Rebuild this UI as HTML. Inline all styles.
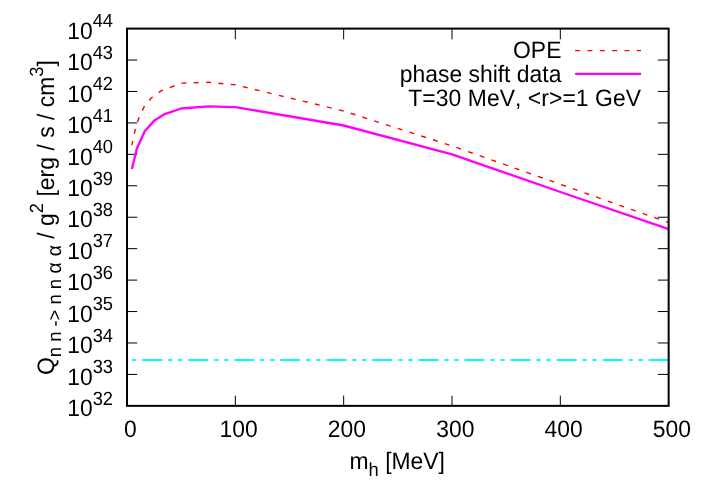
<!DOCTYPE html>
<html><head><meta charset="utf-8">
<title>Q vs m_h</title>
<style>
html,body{margin:0;padding:0;background:#fff;}
svg{display:block;will-change:transform;}
text{font-family:"Liberation Sans",sans-serif;fill:#000;text-rendering:geometricPrecision;}
</style></head>
<body>
<svg width="710" height="498" viewBox="0 0 710 498">
<rect width="710" height="498" fill="#fff"/>
<path d="M127.0,60.04h10.2M668.65,60.04h-10.8M127.0,91.47h10.2M668.65,91.47h-10.8M127.0,122.91h10.2M668.65,122.91h-10.8M127.0,154.35h10.2M668.65,154.35h-10.8M127.0,185.79h10.2M668.65,185.79h-10.8M127.0,217.22h10.2M668.65,217.22h-10.8M127.0,248.66h10.2M668.65,248.66h-10.8M127.0,280.10h10.2M668.65,280.10h-10.8M127.0,311.54h10.2M668.65,311.54h-10.8M127.0,342.98h10.2M668.65,342.98h-10.8M127.0,374.41h10.2M668.65,374.41h-10.8M235.33,405.85v-10.2M235.33,28.6v10.7M343.66,405.85v-10.2M343.66,28.6v10.7M451.99,405.85v-10.2M451.99,28.6v10.7M560.32,405.85v-10.2M560.32,28.6v10.7" stroke="#000" stroke-width="1" fill="none"/>
<path d="M131.9,145.2L134.8,131.6L138.5,118.9L143.9,107.2L151.1,98.1L161.1,90.9L181.3,83.1L208.2,82.3L235.3,84.8L343.7,111.0L452,145.9L560.4,184.3L668.65,222.6" fill="none" stroke="#ff0000" stroke-width="1.4" stroke-dasharray="5 7.35" stroke-dashoffset="0.8"/>
<path d="M131.9,169.0L137,148.2L144.8,131.2L153.8,121.1L164.7,114.1L181.2,108.5L208.2,106.3L235.3,107.1L343.7,125.5L452,154.4L560.4,192.0L668.65,229.2" fill="none" stroke="#ff00ff" stroke-width="2.35" stroke-linejoin="round"/>
<path d="M668.65,360L132.1,360" fill="none" stroke="#00ffff" stroke-width="2" stroke-dasharray="20 6 4 6 4 6.04"/>
<rect x="127.0" y="28.6" width="541.65" height="377.25" fill="none" stroke="#000" stroke-width="2"/>
<path d="M575.1,50.6H641" fill="none" stroke="#ff0000" stroke-width="1.3" stroke-dasharray="5 7.35"/>
<path d="M575.1,73.8H641" fill="none" stroke="#ff00ff" stroke-width="2.3"/>
<text transform="translate(561.40,58.30) scale(1,1.04)" font-size="22.90" text-anchor="end">OPE</text>
<text transform="translate(561.40,81.70) scale(1,1.04)" font-size="22.90" text-anchor="end">phase shift data</text>
<text transform="translate(641.00,105.70) scale(1,1.04)" font-size="22.90" text-anchor="end" letter-spacing="0.06" style="font-kerning:none">T=30 MeV, &lt;r&gt;=1 GeV</text>
<text transform="translate(67.20,38.80) scale(1,1.04)" font-size="22.90" text-anchor="start">10</text>
<text transform="translate(92.65,27.40) scale(1,1.04)" font-size="18.32" text-anchor="start">44</text>
<text transform="translate(67.20,70.24) scale(1,1.04)" font-size="22.90" text-anchor="start">10</text>
<text transform="translate(92.65,58.84) scale(1,1.04)" font-size="18.32" text-anchor="start">43</text>
<text transform="translate(67.20,101.67) scale(1,1.04)" font-size="22.90" text-anchor="start">10</text>
<text transform="translate(92.65,90.27) scale(1,1.04)" font-size="18.32" text-anchor="start">42</text>
<text transform="translate(67.20,133.11) scale(1,1.04)" font-size="22.90" text-anchor="start">10</text>
<text transform="translate(92.65,121.71) scale(1,1.04)" font-size="18.32" text-anchor="start">41</text>
<text transform="translate(67.20,164.55) scale(1,1.04)" font-size="22.90" text-anchor="start">10</text>
<text transform="translate(92.65,153.15) scale(1,1.04)" font-size="18.32" text-anchor="start">40</text>
<text transform="translate(67.20,195.99) scale(1,1.04)" font-size="22.90" text-anchor="start">10</text>
<text transform="translate(92.65,184.59) scale(1,1.04)" font-size="18.32" text-anchor="start">39</text>
<text transform="translate(67.20,227.42) scale(1,1.04)" font-size="22.90" text-anchor="start">10</text>
<text transform="translate(92.65,216.02) scale(1,1.04)" font-size="18.32" text-anchor="start">38</text>
<text transform="translate(67.20,258.86) scale(1,1.04)" font-size="22.90" text-anchor="start">10</text>
<text transform="translate(92.65,247.46) scale(1,1.04)" font-size="18.32" text-anchor="start">37</text>
<text transform="translate(67.20,290.30) scale(1,1.04)" font-size="22.90" text-anchor="start">10</text>
<text transform="translate(92.65,278.90) scale(1,1.04)" font-size="18.32" text-anchor="start">36</text>
<text transform="translate(67.20,321.74) scale(1,1.04)" font-size="22.90" text-anchor="start">10</text>
<text transform="translate(92.65,310.34) scale(1,1.04)" font-size="18.32" text-anchor="start">35</text>
<text transform="translate(67.20,353.18) scale(1,1.04)" font-size="22.90" text-anchor="start">10</text>
<text transform="translate(92.65,341.78) scale(1,1.04)" font-size="18.32" text-anchor="start">34</text>
<text transform="translate(67.20,384.61) scale(1,1.04)" font-size="22.90" text-anchor="start">10</text>
<text transform="translate(92.65,373.21) scale(1,1.04)" font-size="18.32" text-anchor="start">33</text>
<text transform="translate(67.20,416.05) scale(1,1.04)" font-size="22.90" text-anchor="start">10</text>
<text transform="translate(92.65,404.65) scale(1,1.04)" font-size="18.32" text-anchor="start">32</text>
<text transform="translate(130.30,436.90) scale(1,1.04)" font-size="22.90" text-anchor="middle">0</text>
<text transform="translate(238.63,436.90) scale(1,1.04)" font-size="22.90" text-anchor="middle">100</text>
<text transform="translate(346.96,436.90) scale(1,1.04)" font-size="22.90" text-anchor="middle">200</text>
<text transform="translate(455.29,436.90) scale(1,1.04)" font-size="22.90" text-anchor="middle">300</text>
<text transform="translate(563.62,436.90) scale(1,1.04)" font-size="22.90" text-anchor="middle">400</text>
<text transform="translate(671.95,436.90) scale(1,1.04)" font-size="22.90" text-anchor="middle">500</text>
<text transform="translate(349.50,468.80) scale(1,1.04)" font-size="22.90" text-anchor="start">m<tspan font-size="18.32" dy="7.31">h</tspan><tspan dy="-7.31"> [MeV]</tspan></text>
<text transform="translate(53.8,375) rotate(-90) scale(1,1.04)" font-size="22.9" letter-spacing="0.025">Q<tspan font-size="18.32" dy="7.02">n n -&gt; n n<tspan dx="0.4"> </tspan><tspan font-size="19.42">α</tspan><tspan dx="0.8"> </tspan><tspan font-size="19.42">α</tspan></tspan><tspan dy="-7.02"> / g</tspan><tspan font-size="18.32" dy="-10.48">2</tspan><tspan dy="10.48"> [erg / s / cm</tspan><tspan font-size="18.32" dy="-10.48">3</tspan><tspan dy="10.48">]</tspan></text>
</svg>
</body></html>
